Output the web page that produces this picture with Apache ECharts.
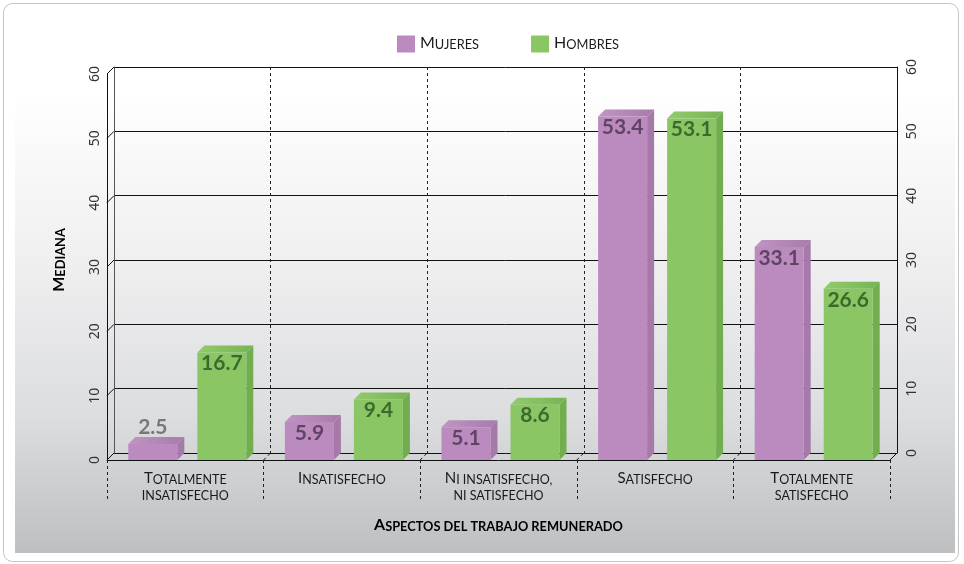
<!DOCTYPE html>
<html><head><meta charset="utf-8">
<script src="https://cdn.jsdelivr.net/npm/echarts@6/dist/echarts.min.js"></script>
<style>html,body{margin:0;padding:0;background:#fff}#c{width:964px;height:564px}</style>
</head><body><div id="c"></div>
<script>
// ---- data ----
const categories = ['Totalmente\ninsatisfecho', 'Insatisfecho', 'Ni insatisfecho,\nni satisfecho', 'Satisfecho', 'Totalmente\nsatisfecho'];
const seriesNames = ['Mujeres', 'Hombres'];
const mujeres = [2.5, 5.9, 5.1, 53.4, 33.1];
const hombres = [16.7, 9.4, 8.6, 53.1, 26.6];
const yMin = 0, yMax = 60, yInterval = 10;
const yAxisName = 'Mediana';
const xAxisName = 'Aspectos del trabajo remunerado';

// ---- style ----
const FONT = 'Lato';
const DEPTH = 7, BW = 49;
const barOffsets = [-57, 12];
const palette = [
  {front: '#bb8abf', side: '#a57aa9', top1: '#a67ca9', top2: '#c094c3', label: '#5f4563'},
  {front: '#8ac663', side: '#72ad4f', top1: '#77b354', top2: '#92cb6c', label: '#3c6a2c'}
];

function sc(text, big, small) {
  return text.split('\n').map(line => line.split(' ').map(w => {
    const f = w.charAt(0);
    if (f !== f.toLowerCase()) {
      return '{' + big + '|' + f + '}' + (w.length > 1 ? '{' + small + '|' + w.slice(1).toUpperCase() + '}' : '');
    }
    return '{' + small + '|' + w.toUpperCase() + '}';
  }).join('{' + small + '| }')).join('\n');
}

function barRender(si) {
  const c = palette[si];
  return function (params, api) {
    const cat = api.value(0), v = api.value(1);
    const base = api.coord([cat, 0]);
    const top = api.coord([cat, v]);
    const x0 = base[0] + barOffsets[si], x1 = x0 + BW;
    const yb = base[1], yt = top[1], d = DEPTH;
    const h = yb - yt;
    const inside = h > 26;
    return {
      type: 'group',
      children: [
        {type: 'polygon', shape: {points: [[x1, yb], [x1 + d, yb - d], [x1 + d, yt - d], [x1, yt]]}, style: {fill: c.side}},
        {type: 'polygon', shape: {points: [[x0, yt], [x0 + d, yt - d], [x1 + d, yt - d], [x1, yt]]},
          style: {fill: {type: 'linear', x: 0, y: 0, x2: 1, y2: 0, colorStops: [{offset: 0, color: c.top2}, {offset: 1, color: c.top1}]}}},
        {type: 'rect', shape: {x: x0, y: yt, width: BW, height: h}, style: {fill: c.front}},
        {type: 'text', style: {text: v.toFixed(1), x: (x0 + x1) / 2, y: inside ? yt + 11 : yt - d - 10,
          align: 'center', verticalAlign: 'middle', font: 'bold 21px ' + FONT, fill: inside ? c.label : '#787878'}}
      ]
    };
  };
}

function decoRender(params, api) {
  const bw = api.size([1, 0])[0];
  const children = [];
  const d = DEPTH;
  const ls = {stroke: '#111', lineWidth: 1};
  const x0 = api.coord([0, 0])[0] - bw / 2;
  for (let v = yMin; v <= yMax; v += yInterval) {
    const p = api.coord([0, v]);
    children.push({type: 'line', shape: {x1: x0, y1: p[1], x2: x0 + d, y2: p[1] - d}, style: ls});
  }
  for (let i = 0; i <= categories.length; i++) {
    const xb = x0 + i * bw;
    const yb = api.coord([0, 0])[1];
    const edge = (i === 0 || i === categories.length);
    children.push({type: 'line', shape: {x1: xb, y1: yb, x2: xb + d, y2: yb - d},
      style: {stroke: '#111', lineWidth: 1, lineDash: edge ? null : [3, 3]}});
  }
  return {type: 'group', children: children};
}

const richCat = {
  b: {fontFamily: FONT, fontSize: 15, color: '#1a1a1a', lineHeight: 16, verticalAlign: 'bottom'},
  s: {fontFamily: FONT, fontSize: 12.5, color: '#1a1a1a', lineHeight: 16, verticalAlign: 'bottom'}
};
const richTitle = {
  b: {fontFamily: FONT, fontSize: 16, fontWeight: 'bold', color: '#000', verticalAlign: 'bottom', lineHeight: 17},
  s: {fontFamily: FONT, fontSize: 12.8, fontWeight: 'bold', color: '#000', verticalAlign: 'bottom', lineHeight: 17}
};
const richLegend = {
  b: {fontFamily: FONT, fontSize: 16, color: '#1a1a1a', verticalAlign: 'bottom', lineHeight: 18},
  s: {fontFamily: FONT, fontSize: 12.8, color: '#1a1a1a', verticalAlign: 'bottom', lineHeight: 18}
};

const chart = echarts.init(document.getElementById('c'), null, {renderer: 'canvas'});
chart.setOption({
  animation: false,
  graphic: [
    {type: 'rect', z: -20, shape: {x: 3.5, y: 3.5, width: 955, height: 558, r: 9},
      style: {fill: '#fff', stroke: '#c4c4c4', lineWidth: 1}},
    {type: 'rect', z: -19, shape: {x: 15, y: 8, width: 940, height: 545},
      style: {fill: {type: 'linear', x: 0, y: 0, x2: 0, y2: 1, colorStops: [
        {offset: 0, color: '#ffffff'}, {offset: 0.15, color: '#ffffff'}, {offset: 0.45, color: '#f0f0f1'},
        {offset: 0.75, color: '#dcdddf'}, {offset: 1, color: '#bebfc1'}]}}}
  ],
  legend: {
    left: 392, top: 30, itemWidth: 18, itemHeight: 17, itemGap: 52,
    data: [
      {name: seriesNames[0], icon: 'rect', itemStyle: {color: palette[0].front}},
      {name: seriesNames[1], icon: 'rect', itemStyle: {color: palette[1].front}}
    ],
    formatter: n => sc(n, 'b', 's'),
    textStyle: {rich: richLegend, padding: [-4, 0, 0, 0]}
  },
  grid: [
    {left: 107, right: 74, top: 74, bottom: 104, containLabel: false},
    {left: 114, right: 67, top: 67, bottom: 111, containLabel: false}
  ],
  xAxis: [
    {type: 'category', gridIndex: 0, data: categories,
      axisLine: {show: true, lineStyle: {color: '#111', width: 1}},
      axisTick: {show: true, interval: 0, length: 40, lineStyle: {color: '#222', type: [3, 3]}},
      axisLabel: {interval: 0, margin: 10, formatter: t => sc(t, 'b', 's'), rich: richCat, align: 'center'},
      splitLine: {show: false},
      name: sc(xAxisName, 'b', 's'), nameLocation: 'middle', nameGap: 56,
      nameTextStyle: {rich: richTitle}
    },
    {type: 'category', gridIndex: 1, data: categories,
      axisLine: {show: false}, axisTick: {show: false}, axisLabel: {show: false},
      splitLine: {show: true, interval: 0, lineStyle: {color: '#222', type: [3, 3], width: 1}}
    }
  ],
  yAxis: [
    {type: 'value', gridIndex: 0, min: yMin, max: yMax, interval: yInterval,
      axisLine: {show: true, lineStyle: {color: '#111'}}, axisTick: {show: false},
      axisLabel: {rotate: 90, margin: 5, fontFamily: 'Noto Sans', fontSize: 14, color: '#333'},
      splitLine: {show: false}
    },
    {type: 'value', gridIndex: 1, position: 'left', min: yMin, max: yMax, interval: yInterval,
      axisLine: {show: true, lineStyle: {color: '#555'}}, axisTick: {show: false}, axisLabel: {show: false},
      splitLine: {show: true, lineStyle: {color: '#111', width: 1}},
      name: sc(yAxisName, 'b', 's'), nameLocation: 'middle', nameGap: 47, nameRotate: 90,
      nameTextStyle: {rich: richTitle}
    },
    {type: 'value', gridIndex: 1, position: 'right', min: yMin, max: yMax, interval: yInterval,
      axisLine: {show: true, lineStyle: {color: '#111'}}, axisTick: {show: false},
      axisLabel: {rotate: 90, margin: 8, fontFamily: 'Noto Sans', fontSize: 14, color: '#333'},
      splitLine: {show: false}
    }
  ],
  series: [
    {type: 'custom', name: 'deco', xAxisIndex: 0, yAxisIndex: 0, z: 1, silent: true,
      data: [[0, 0]], renderItem: decoRender},
    {type: 'custom', name: seriesNames[0], xAxisIndex: 0, yAxisIndex: 0, z: 3,
      itemStyle: {color: palette[0].front},
      data: mujeres.map((v, i) => [i, v]), renderItem: barRender(0)},
    {type: 'custom', name: seriesNames[1], xAxisIndex: 0, yAxisIndex: 0, z: 3,
      itemStyle: {color: palette[1].front},
      data: hombres.map((v, i) => [i, v]), renderItem: barRender(1)}
  ]
});
</script></body></html>
